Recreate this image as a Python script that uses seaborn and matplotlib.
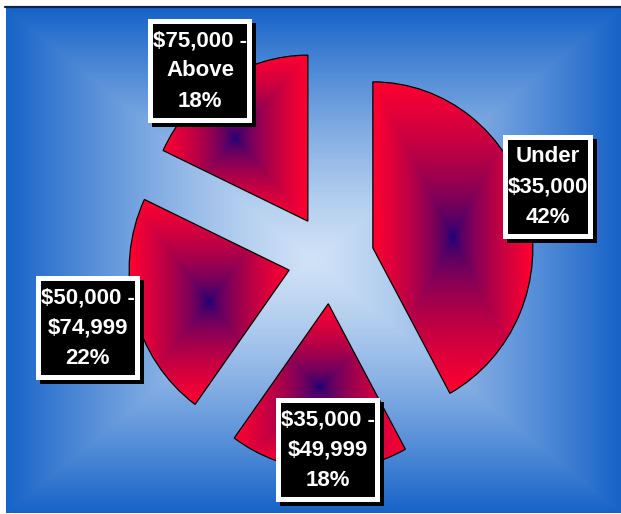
import numpy as np
import matplotlib
matplotlib.use("Agg")
import matplotlib.pyplot as plt
from matplotlib.lines import Line2D
from matplotlib.patches import Rectangle
from matplotlib.transforms import IdentityTransform
import seaborn as sns

# ---- data ----
categories = ["Under\n$35,000", "$35,000 -\n$49,999", "$50,000 -\n$74,999", "$75,000 -\nAbove"]
shares = [42, 18, 22, 18]

# ---- layout constants ----
W, H = 621, 514
CX, CY = 331, 259          # pie centre in pixels
SX, SY = 160.0, 166.0      # pixels per data unit
EXPLODE = 0.27
label_pos = [(1.356, 0.434), (-0.019, -1.151), (-1.519, -0.416), (-0.819, 1.133)]

sns.set_theme(style="white")
plt.rcParams['font.family'] = ['Liberation Sans', 'DejaVu Sans']

fig = plt.figure(figsize=(W / 100, H / 100), dpi=100, facecolor='white')
left_px, top_px, bot_px = 6, 8, 513
ax = fig.add_axes([left_px / W, (H - bot_px) / H, (W - left_px) / W, (bot_px - top_px) / H])

x0, x1 = (left_px - CX) / SX, (W - CX) / SX
y0, y1 = (CY - bot_px) / SY, (CY - top_px) / SY

# background box gradient
bg_cmap = sns.blend_palette(["#cfe1f6", "#1763c8"], n_colors=256, as_cmap=True)
gx = np.linspace(-1, 1, 400)
GX, GY = np.meshgrid(gx, gx)
bgt = np.maximum(np.abs(GX), np.abs(GY)) ** 1.3
ax.imshow(bgt, cmap=bg_cmap, vmin=0, vmax=1, extent=(x0, x1, y0, y1),
          origin='lower', aspect='auto', zorder=0, interpolation='bilinear')

wedges, _ = ax.pie(shares, explode=[EXPLODE] * len(shares), startangle=90,
                   counterclock=False, radius=1,
                   wedgeprops=dict(facecolor='none', edgecolor='black', linewidth=0.9))

sl_cmap = sns.blend_palette(["#0e007c", "#ff0030"], n_colors=256, as_cmap=True)
for w in wedges:
    w.set_zorder(3)
    cx, cy = w.center
    th = np.radians(np.linspace(min(w.theta1, w.theta2), max(w.theta1, w.theta2), 200))
    px = np.concatenate([[cx], cx + w.r * np.cos(th)])
    py = np.concatenate([[cy], cy + w.r * np.sin(th)])
    bx0, bx1, by0, by1 = px.min(), px.max(), py.min(), py.max()
    t = np.maximum(np.abs(GX), np.abs(GY)) ** 0.55
    im = ax.imshow(t, cmap=sl_cmap, vmin=0, vmax=1, extent=(bx0, bx1, by0, by1),
                   origin='lower', aspect='auto', zorder=2, interpolation='bilinear')
    im.set_clip_path(w)

ax.set_xlim(x0, x1)
ax.set_ylim(y0, y1)
ax.set_aspect('auto')
ax.axis('off')

texts = []
for cat, sh, (lx, ly) in zip(categories, shares, label_pos):
    texts.append(ax.text(lx, ly, f"{cat}\n{sh}%", ha='center', va='center', color='white',
                         fontsize=16, fontweight='bold', linespacing=1.58, zorder=10))

fig.canvas.draw()
renderer = fig.canvas.get_renderer()
HP, VP, BORDER, SH = 0.0, 6.0, 5.0, 4.0
for txt in texts:
    e = txt.get_window_extent(renderer)
    ix0, iy0 = e.x0 - HP, e.y0 - VP
    iw, ih = e.width + 2 * HP, e.height + 2 * VP
    ox0, oy0 = ix0 - BORDER, iy0 - BORDER
    ow, oh = iw + 2 * BORDER, ih + 2 * BORDER
    fig.add_artist(Rectangle((ox0 + SH, oy0 - SH), ow, oh, transform=IdentityTransform(),
                             fc='black', ec='none', zorder=7))
    fig.add_artist(Rectangle((ox0, oy0), ow, oh, transform=IdentityTransform(),
                             fc='white', ec='none', zorder=8))
    fig.add_artist(Rectangle((ix0, iy0), iw, ih, transform=IdentityTransform(),
                             fc='black', ec='none', zorder=9))
    txt.remove()
    fig.add_artist(txt)

fig.add_artist(Line2D([left_px / W - 0.002, 1], [1 - 7 / H, 1 - 7 / H],
                      transform=fig.transFigure, color='#0a2450', lw=1.6))

fig.savefig("out.png", dpi=100, facecolor='white')
